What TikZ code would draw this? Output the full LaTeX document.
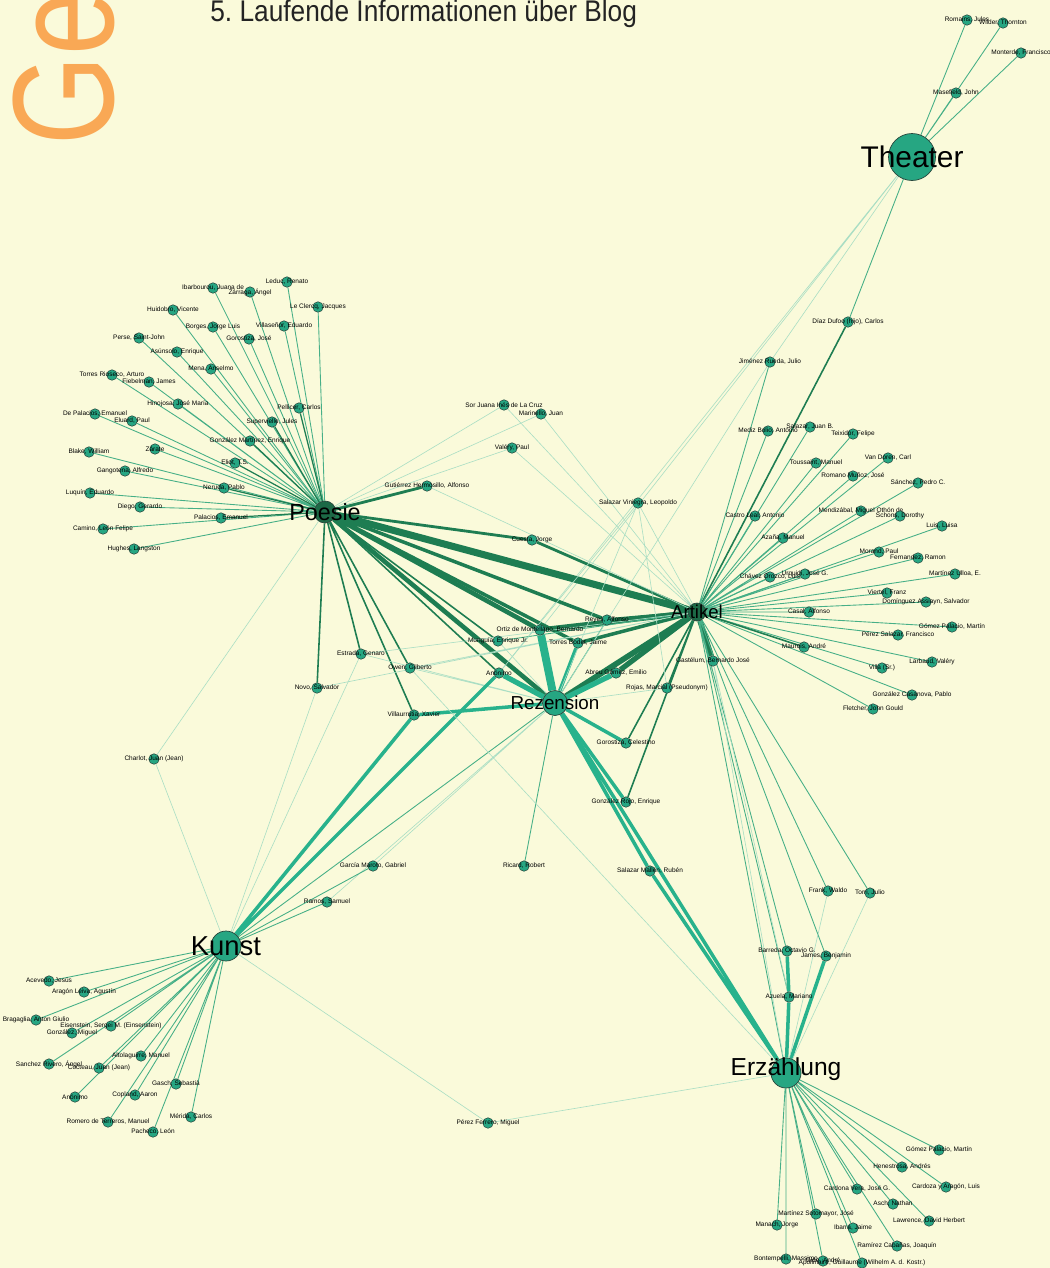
\documentclass[tikz,border=0pt]{standalone}
\usepackage{fontspec}
\setmainfont{Liberation Sans}
\newfontfamily\condfont[FakeStretch=0.8]{Liberation Sans}
\newfontfamily\headfont[FakeStretch=0.88]{Liberation Sans}
\usepackage{tikz}
\usetikzlibrary{positioning}
\pgfdeclarelayer{bg}
\pgfdeclarelayer{edges}
\pgfsetlayers{bg,edges,main}
\definecolor{bgYellow}{RGB}{250,250,218}
\definecolor{nodeFill}{RGB}{38,166,130}
\definecolor{nodeLine}{RGB}{40,70,60}
\definecolor{hubDark}{RGB}{28,105,70}
\definecolor{edgeLite}{RGB}{170,222,196}
\definecolor{edgeMid}{RGB}{70,175,135}
\definecolor{edgeDark}{RGB}{30,125,82}
\definecolor{edgeTeal}{RGB}{40,178,140}
\definecolor{titleGray}{RGB}{35,35,35}
\definecolor{orangeGe}{RGB}{249,168,85}
\newcommand\namefont{\fontsize{3.7}{4}\selectfont}
\tikzstyle{person} = [circle, draw=nodeLine, fill=nodeFill, line width=0.3pt, inner sep=0pt, minimum size=0.21cm]
\tikzstyle{hub} = [circle, draw=nodeLine, fill=nodeFill, line width=0.4pt, inner sep=0pt]
\tikzstyle{lite} = [draw=edgeLite, line width=0.35pt]
\tikzstyle{fan} = [draw=edgeMid, line width=0.5pt]
\tikzstyle{fandark} = [draw=edgeDark, line width=0.7pt]
\tikzstyle{darkline} = [draw=edgeDark, line width=0.9pt]
\tikzstyle{band} = [draw=edgeTeal, line width=2pt]
\tikzstyle{heavy} = [draw=edgeDark, line width=4pt]

\begin{document}
\begin{tikzpicture}[x=0.02cm, y=-0.02cm, every label/.append style={font=\namefont, inner sep=0pt, text=black}]
            \begin{pgfonlayer}{bg}
              \fill [bgYellow] (0,0) rectangle (1050,1268);
            \end{pgfonlayer}
            \useasboundingbox (0,0) rectangle (1050,1268);
            % Header
            \node [rotate=90, anchor=base west, inner sep=0pt, text=orangeGe, font=\condfont\fontsize{82}{82}\selectfont] (ge) at (113,146) {Ge};
            \node [anchor=base west, inner sep=0pt, text=titleGray, font=\headfont\fontsize{17}{17}\selectfont] (title) at (210,21.8) {5.\ Laufende Informationen über Blog};
            % Hubs
            \node [hub, minimum size=0.94cm, label={[font=\fontsize{17}{17}\selectfont]center:Theater}] (theater) at (912,157) {};
            \node [hub, fill=hubDark, minimum size=0.44cm, label={[font=\fontsize{13.3}{13.3}\selectfont]center:Poesie}] (poesie) at (325,512) {};
            \node [hub, fill=hubDark, minimum size=0.36cm, label={[font=\fontsize{10.6}{10.6}\selectfont]center:Artikel}] (artikel) at (697,612) {};
            \node [hub, minimum size=0.5cm, label={[font=\fontsize{10.7}{10.7}\selectfont]center:Rezension}] (rezension) at (555,703) {};
            \node [hub, minimum size=0.6cm, label={[font=\fontsize{15.6}{15.6}\selectfont]center:Kunst}] (kunst) at (226,946) {};
            \node [hub, minimum size=0.6cm, label={[font=\fontsize{14}{14}\selectfont, yshift=0.08cm]center:Erzählung}] (erzahlung) at (786,1073) {};
            % Theater cluster
            \node [person, label={center:{Romains, Jules}}] (romains) at (967,20) {};
            \node [person, label={center:{Wilder, Thornton}}] (wilder) at (1003,23) {};
            \node [person, label={center:{Monterde, Francisco}}] (monterde) at (1021,53) {};
            \node [person, label={center:{Masefield, John}}] (masefield) at (956,93) {};
            % Poesie cluster
            \node [person, label={center:{Leduc, Renato}}] (leduc) at (287,282) {};
            \node [person, label={center:{Ibarbourou, Juana de}}] (ibarb) at (213,288) {};
            \node [person, label={center:{Zárraga, Ángel}}] (zarraga) at (250,292) {};
            \node [person, label={center:{Le Clercq, Jacques}}] (leclercq) at (318,307) {};
            \node [person, label={center:{Huidobro, Vicente}}] (huidobro) at (173,310) {};
            \node [person, label={center:{Borges, Jorge Luis}}] (borges) at (213,327) {};
            \node [person, label={center:{Villaseñor, Eduardo}}] (villasenor) at (284,326) {};
            \node [person, label={center:{Gorostiza, José}}] (gorostizaJ) at (249,339) {};
            \node [person, label={center:{Perse, Saint-John}}] (perse) at (139,338) {};
            \node [person, label={center:{Asúnsolo, Enrique}}] (asunsolo) at (177,352) {};
            \node [person, label={center:{Mena, Anselmo}}] (mena) at (211,369) {};
            \node [person, label={center:{Torres Rioseco, Arturo}}] (rioseco) at (112,375) {};
            \node [person, label={center:{Fiebelman, James}}] (fiebelman) at (149,382) {};
            \node [person, label={center:{Hinojosa, José María}}] (hinojosa) at (178,404) {};
            \node [person, label={center:{Pellicer, Carlos}}] (pellicer) at (299,408) {};
            \node [person, label={center:{De Palacios, Emanuel}}] (depalacios) at (95,414) {};
            \node [person, label={center:{Eluard, Paul}}] (eluard) at (132,421) {};
            \node [person, label={center:{Supervielle, Jules}}] (supervielle) at (272,422) {};
            \node [person, label={center:{González Martínez, Enrique}}] (gmartinez) at (250,441) {};
            \node [person, label={center:{Blake, William}}] (blake) at (89,452) {};
            \node [person, label={center:{Zárate}}] (zarate) at (155,449) {};
            \node [person, label={center:{Gangotena, Alfredo}}] (gangotena) at (125,471) {};
            \node [person, label={center:{Eliot, T.S.}}] (eliot) at (235,463) {};
            \node [person, label={center:{Neruda, Pablo}}] (neruda) at (224,488) {};
            \node [person, label={center:{Luquín, Eduardo}}] (luquin) at (90,493) {};
            \node [person, label={center:{Diego, Gerardo}}] (diego) at (140,507) {};
            \node [person, label={center:{Palacios, Emanuel}}] (palacios) at (221,518) {};
            \node [person, label={center:{Camino, León Felipe}}] (camino) at (103,529) {};
            \node [person, label={center:{Hughes, Langston}}] (hughes) at (134,549) {};
            % Upper middle
            \node [person, label={center:{Sor Juana Inés de La Cruz}}] (sorjuana) at (504,405) {};
            \node [person, label={center:{Marinello, Juan}}] (marinello) at (541,414) {};
            \node [person, label={center:{Valéry, Paul}}] (valery) at (512,448) {};
            \node [person, label={center:{Gutiérrez Hermosillo, Alfonso}}] (gutierrez) at (427,486) {};
            \node [person, label={center:{Salazar Viniegra, Leopoldo}}] (salazarV) at (638,503) {};
            \node [person, label={center:{Cuesta, Jorge}}] (cuesta) at (532,540) {};
            % Artikel cluster
            \node [person, label={center:{Díaz Dufoo (hijo), Carlos}}] (diazdufoo) at (848,322) {};
            \node [person, label={center:{Jiménez Rueda, Julio}}] (jimenez) at (770,362) {};
            \node [person, label={center:{Mediz Bolio, Antonio}}] (mediz) at (768,431) {};
            \node [person, label={center:{Salazar, Juan B.}}] (salazarJ) at (810,427) {};
            \node [person, label={center:{Teixidor, Felipe}}] (teixidor) at (853,434) {};
            \node [person, label={center:{Van Doren, Carl}}] (vandoren) at (888,458) {};
            \node [person, label={center:{Toussaint, Manuel}}] (toussaint) at (816,463) {};
            \node [person, label={center:{Romano Muñoz, José}}] (romano) at (853,476) {};
            \node [person, label={center:{Sánchez, Pedro C.}}] (sanchezP) at (918,483) {};
            \node [person, label={center:{Castro Leal, Antonio}}] (castro) at (755,516) {};
            \node [person, label={center:{Mendizábal, Miguel Othón de}}] (mendizabal) at (861,511) {};
            \node [person, label={center:{Schons, Dorothy}}] (schons) at (900,516) {};
            \node [person, label={center:{Luis, Luisa}}] (luis) at (942,526) {};
            \node [person, label={center:{Azaña, Manuel}}] (azana) at (783,538) {};
            \node [person, label={center:{Morand, Paul}}] (morand) at (879,552) {};
            \node [person, label={center:{Fernandez, Ramon}}] (fernandez) at (918,558) {};
            \node [person, label={center:{Chávez Orozco, Luis}}] (chavez) at (770,577) {};
            \node [person, label={center:{Urquidi, José G.}}] (urquidi) at (805,574) {};
            \node [person, label={center:{Martínez Ulloa, E.}}] (mulloa) at (955,574) {};
            \node [person, label={center:{Viertel, Franz}}] (viertel) at (887,593) {};
            \node [person, label={center:{Domínguez Assiayn, Salvador}}] (dominguez) at (926,602) {};
            \node [person, label={center:{Casal, Alfonso}}] (casal) at (809,612) {};
            \node [person, label={center:{Gómez Palacio, Martín}}] (gpalacio) at (952,627) {};
            \node [person, label={center:{Pérez Salazar, Francisco}}] (perezS) at (898,635) {};
            \node [person, label={center:{Maurois, André}}] (maurois) at (804,647) {};
            \node [person, label={center:{Gastélum, Bernardo José}}] (gastelum) at (713,661) {};
            \node [person, label={center:{Larbaud, Valéry}}] (larbaud) at (932,662) {};
            \node [person, label={center:{Villa (Sr.)}}] (villa) at (882,668) {};
            \node [person, label={center:{González Casanova, Pablo}}] (gcasanova) at (912,695) {};
            \node [person, label={center:{Fletcher, John Gould}}] (fletcher) at (873,709) {};
            % Centre
            \node [person, label={center:{Reyes, Alfonso}}] (reyes) at (607,620) {};
            \node [person, label={center:{Ortiz de Montellano, Bernardo}}] (ortiz) at (540,630) {};
            \node [person, label={center:{Munguía, Enrique Jr.}}] (munguia) at (498,641) {};
            \node [person, label={center:{Torres Bodet, Jaime}}] (torresB) at (578,643) {};
            \node [person, label={center:{Estrada, Genaro}}] (estrada) at (361,654) {};
            \node [person, label={center:{Owen, Gilberto}}] (owen) at (410,668) {};
            \node [person, label={center:{Anónimo}}] (anonimoR) at (499,673) {};
            \node [person, label={center:{Abreu Gómez, Emilio}}] (abreu) at (616,673) {};
            \node [person, label={center:{Rojas, Marcial (Pseudonym)}}] (rojas) at (667,688) {};
            \node [person, label={center:{Novo, Salvador}}] (novo) at (317,688) {};
            \node [person, label={center:{Villaurrutia, Xavier}}] (villaurrutia) at (414,715) {};
            \node [person, label={center:{Gorostiza, Celestino}}] (gorostizaC) at (626,743) {};
            \node [person, label={center:{González Rojo, Enrique}}] (gonzalezR) at (626,802) {};
            \node [person, label={center:{Charlot, Juan (Jean)}}] (charlot) at (154,759) {};
            \node [person, label={center:{García Maroto, Gabriel}}] (garcia) at (373,866) {};
            \node [person, label={center:{Ramos, Samuel}}] (ramos) at (327,902) {};
            \node [person, label={center:{Ricard, Robert}}] (ricard) at (524,866) {};
            \node [person, label={center:{Salazar Mallén, Rubén}}] (salazarM) at (650,871) {};
            \node [person, label={center:{Pérez Ferrero, Miguel}}] (perezF) at (488,1123) {};
            % Erzaehlung upper
            \node [person, label={center:{Frank, Waldo}}] (frank) at (828,891) {};
            \node [person, label={center:{Torri, Julio}}] (torri) at (870,893) {};
            \node [person, label={center:{Barreda, Octavio G.}}] (barreda) at (787,951) {};
            \node [person, label={center:{James, Benjamin}}] (james) at (826,956) {};
            \node [person, label={center:{Azuela, Mariano}}] (azuela) at (789,997) {};
            % Kunst cluster
            \node [person, label={center:{Acevedo, Jesús}}] (acevedo) at (49,981) {};
            \node [person, label={center:{Aragón Leiva, Agustín}}] (aragon) at (84,992) {};
            \node [person, label={center:{Bragaglia, Anton Giulio}}] (bragaglia) at (36,1020) {};
            \node [person, label={center:{Eisenstein, Sergei M. (Einsenstein)}}] (eisenstein) at (111,1026) {};
            \node [person, label={center:{González, Miguel}}] (gmiguel) at (72,1033) {};
            \node [person, label={center:{Altolaguirre, Manuel}}] (altolaguirre) at (141,1056) {};
            \node [person, label={center:{Sanchez Rivero, Ángel}}] (sanchezR) at (49,1064) {};
            \node [person, label={center:{Cocteau, Juan (Jean)}}] (cocteau) at (99,1068) {};
            \node [person, label={center:{Gasch, Sebastià}}] (gasch) at (176,1084) {};
            \node [person, label={center:{Anónimo}}] (anonimoK) at (75,1097) {};
            \node [person, label={center:{Copland, Aaron}}] (copland) at (135,1095) {};
            \node [person, label={center:{Mérida, Carlos}}] (merida) at (191,1117) {};
            \node [person, label={center:{Romero de Terreros, Manuel}}] (romero) at (108,1122) {};
            \node [person, label={center:{Pacheco, León}}] (pacheco) at (153,1132) {};
            % Erzaehlung cluster
            \node [person, label={center:{Gómez Palacio, Martín}}] (gpalacioE) at (939,1150) {};
            \node [person, label={center:{Henestrosa, Andrés}}] (henestrosa) at (902,1167) {};
            \node [person, label={center:{Cardoza y Aragón, Luis}}] (cardoza) at (946,1187) {};
            \node [person, label={center:{Cardona Vera, José G.}}] (cardona) at (857,1189) {};
            \node [person, label={center:{Asch, Nathan}}] (asch) at (893,1204) {};
            \node [person, label={center:{Martínez Sotomayor, José}}] (msotomayor) at (816,1214) {};
            \node [person, label={center:{Lawrence, David Herbert}}] (lawrence) at (929,1221) {};
            \node [person, label={center:{Manach, Jorge}}] (manach) at (777,1225) {};
            \node [person, label={center:{Ibarra, Jaime}}] (ibarra) at (853,1228) {};
            \node [person, label={center:{Ramírez Cabañas, Joaquín}}] (ramirez) at (897,1246) {};
            \node [person, label={center:{Bontempelli, Massimo}}] (bontempelli) at (786,1259) {};
            \node [person, label={center:{Gide, André}}] (gide) at (823,1261) {};
            \node [person, label={center:{Apollinaire, Guillaume (Wilhelm A. d. Kostr.)}}] (apollinaire) at (862,1263) {};
            % Draw edges
            \begin{pgfonlayer}{edges}
            % Theater
            \path [fan] (theater) -- (romains) (theater) -- (wilder) (theater) -- (monterde) (theater) -- (masefield) (theater) -- (diazdufoo);
            \path [lite] (theater) -- (jimenez) (theater) -- (ortiz) (theater) -- (anonimoR);
            \path [darkline] (diazdufoo) -- (artikel);
            % Poesie
            \path [fan] (poesie) -- (leduc) (poesie) -- (ibarb) (poesie) -- (zarraga) (poesie) -- (leclercq) (poesie) -- (huidobro) (poesie) -- (borges);
            \path [fan] (poesie) -- (villasenor) (poesie) -- (gorostizaJ) (poesie) -- (perse) (poesie) -- (asunsolo) (poesie) -- (mena) (poesie) -- (rioseco);
            \path [fan] (poesie) -- (fiebelman) (poesie) -- (hinojosa) (poesie) -- (depalacios) (poesie) -- (eluard) (poesie) -- (blake) (poesie) -- (zarate);
            \path [fan] (poesie) -- (gangotena) (poesie) -- (luquin) (poesie) -- (diego) (poesie) -- (camino) (poesie) -- (hughes);
            \path [fandark] (poesie) -- (pellicer) (poesie) -- (supervielle) (poesie) -- (gmartinez) (poesie) -- (eliot) (poesie) -- (neruda) (poesie) -- (palacios);
            \path [lite] (poesie) -- (sorjuana) (poesie) -- (marinello) (poesie) -- (valery) (poesie) -- (charlot);
            \path [darkline, line width=1.6pt] (poesie) -- (gutierrez) (poesie) -- (cuesta) (cuesta) -- (artikel);
            \path [darkline] (poesie) -- (estrada) (poesie) -- (owen) (poesie) -- (villaurrutia) (poesie) -- (novo) (poesie) -- (anonimoR) (poesie) -- (munguia);
            \path [darkline, line width=2pt] (poesie) -- (torresB) (poesie) -- (reyes);
            \path [darkline, line width=2.6pt] (poesie) -- (ortiz) (poesie) -- (rezension);
            \path [heavy] (poesie) -- (artikel);
            % Artikel
            \path [fan] (artikel) -- (jimenez) (artikel) -- (mediz) (artikel) -- (salazarJ) (artikel) -- (teixidor) (artikel) -- (vandoren) (artikel) -- (toussaint);
            \path [fan] (artikel) -- (romano) (artikel) -- (sanchezP) (artikel) -- (castro) (artikel) -- (mendizabal) (artikel) -- (schons) (artikel) -- (luis);
            \path [fan] (artikel) -- (azana) (artikel) -- (morand) (artikel) -- (fernandez) (artikel) -- (chavez) (artikel) -- (urquidi) (artikel) -- (mulloa);
            \path [fan] (artikel) -- (viertel) (artikel) -- (dominguez) (artikel) -- (casal) (artikel) -- (gpalacio) (artikel) -- (perezS) (artikel) -- (larbaud);
            \path [fan] (artikel) -- (villa) (artikel) -- (gcasanova) (artikel) -- (fletcher);
            \path [darkline] (artikel) -- (maurois) (artikel) -- (rojas) (artikel) -- (gonzalezR) (artikel) -- (gorostizaC);
            \path [darkline, line width=3pt] (artikel) -- (gastelum) (artikel) -- (ortiz) (artikel) -- (abreu);
            \path [darkline, line width=2pt] (artikel) -- (reyes) (artikel) -- (torresB);
            \path [heavy, line width=3.2pt] (artikel) -- (rezension);
            \path [fan] (artikel) -- (munguia) (artikel) -- (frank) (artikel) -- (torri) (artikel) -- (james) (artikel) -- (barreda) (artikel) -- (azuela) (artikel) -- (erzahlung);
            \path [lite] (artikel) -- (sorjuana) (artikel) -- (marinello) (artikel) -- (valery) (artikel) -- (gutierrez) (artikel) -- (salazarV);
            \path [lite] (artikel) -- (estrada) (artikel) -- (owen) (artikel) -- (novo) (gastelum) -- (erzahlung) (gastelum) -- (azuela);
            % Rezension
            \path [band, line width=4.5pt] (rezension) -- (ortiz);
            \path [band, line width=3pt] (rezension) -- (anonimoR) (rezension) -- (abreu);
            \path [band] (rezension) -- (torresB) (rezension) -- (villaurrutia) (rezension) -- (gorostizaC) (rezension) -- (gonzalezR);
            \path [band] (rezension) -- (salazarM) (salazarM) -- (erzahlung) (rezension) -- (erzahlung);
            \path [fan] (rezension) -- (reyes) (rezension) -- (kunst) (rezension) -- (ricard);
            \path [lite] (rezension) -- (rojas) (rezension) -- (munguia) (rezension) -- (salazarV) (rezension) -- (garcia) (rezension) -- (ramos);
            \path [lite] (rezension) -- (owen) (rezension) -- (estrada) (rezension) -- (jimenez) (salazarV) -- (anonimoR) (salazarV) -- (rojas);
            % Kunst
            \path [fan] (kunst) -- (acevedo) (kunst) -- (aragon) (kunst) -- (bragaglia) (kunst) -- (eisenstein) (kunst) -- (gmiguel) (kunst) -- (altolaguirre) (kunst) -- (sanchezR);
            \path [fan] (kunst) -- (cocteau) (kunst) -- (gasch) (kunst) -- (anonimoK) (kunst) -- (copland) (kunst) -- (merida) (kunst) -- (romero) (kunst) -- (pacheco);
            \path [band] (kunst) -- (villaurrutia) (kunst) -- (anonimoR);
            \path [fan] (kunst) -- (ramos) (kunst) -- (garcia);
            \path [lite] (kunst) -- (novo) (kunst) -- (estrada) (kunst) -- (charlot) (kunst) -- (perezF);
            % Erzaehlung
            \path [fan] (erzahlung) -- (gpalacioE) (erzahlung) -- (henestrosa) (erzahlung) -- (cardoza) (erzahlung) -- (cardona) (erzahlung) -- (asch) (erzahlung) -- (msotomayor) (erzahlung) -- (lawrence);
            \path [fan] (erzahlung) -- (manach) (erzahlung) -- (ibarra) (erzahlung) -- (ramirez) (erzahlung) -- (bontempelli) (erzahlung) -- (gide) (erzahlung) -- (apollinaire);
            \path [band] (erzahlung) -- (azuela) (azuela) -- (barreda) (erzahlung) -- (james);
            \path [lite] (erzahlung) -- (frank) (erzahlung) -- (torri) (erzahlung) -- (perezF) (erzahlung) -- (owen);
            \end{pgfonlayer}
          \end{tikzpicture}
\end{document}
